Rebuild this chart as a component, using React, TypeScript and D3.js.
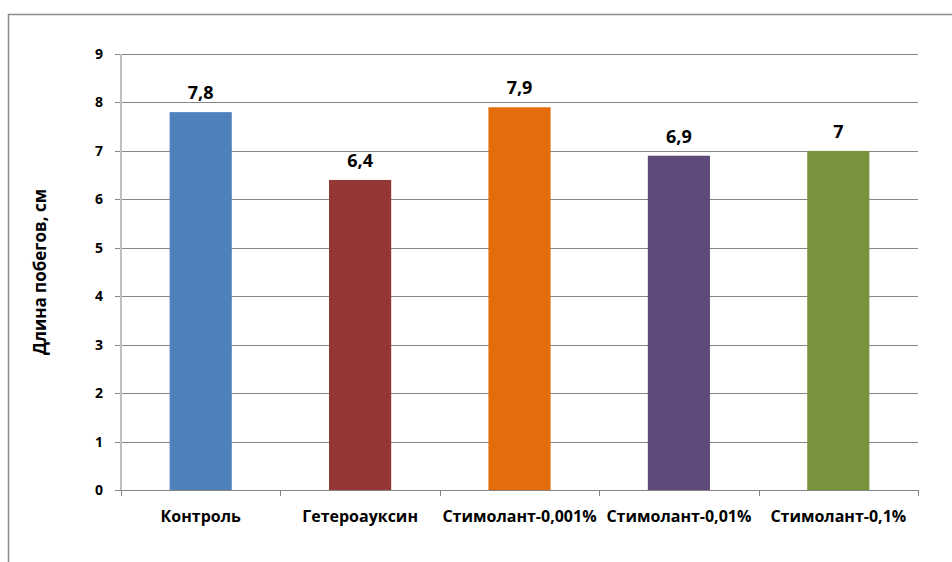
import { useEffect, useRef } from 'react';
import * as d3 from 'd3';

const categories = ['Контроль', 'Гетероауксин', 'Стимолант-0,001%', 'Стимолант-0,01%', 'Стимолант-0,1%'];
const values = [7.8, 6.4, 7.9, 6.9, 7];
const valueLabels = ['7,8', '6,4', '7,9', '6,9', '7'];
const colors = ['#4F81BD', '#953735', '#E46C0A', '#604A7B', '#77933C'];
const yTicks = [0, 1, 2, 3, 4, 5, 6, 7, 8, 9];
const yTitle = 'Длина побегов, см';

const W = 952;
const H = 562;
const FONT = '"Open Sans", "Noto Sans", sans-serif';

export default function App() {
  const svgRef = useRef<SVGSVGElement>(null);

  useEffect(() => {
    if (!svgRef.current) return;
    const svg = d3.select(svgRef.current);
    svg.selectAll('*').remove();

    const left = 121;
    const right = 918;
    const top = 54;
    const bottom = 490;

    // outer chart frame (cut off on right and bottom)
    svg
      .append('path')
      .attr('d', `M8.5,${H + 2} V14.5 H${W + 2}`)
      .attr('fill', 'none')
      .attr('stroke', '#8c8c8c')
      .attr('stroke-width', 1.5);

    const x = d3.scaleBand<string>().domain(categories).range([left, right]).paddingInner(0.61).paddingOuter(0.305);
    const xTickScale = d3.scaleBand<string>().domain(categories).range([left, right]);
    const y = d3.scaleLinear().domain([0, 9]).range([bottom, top]);

    // gridlines
    svg
      .selectAll('line.grid')
      .data(yTicks.slice(1))
      .join('line')
      .attr('class', 'grid')
      .attr('x1', left)
      .attr('x2', right)
      .attr('y1', (d) => Math.round(y(d)) + 0.5)
      .attr('y2', (d) => Math.round(y(d)) + 0.5)
      .attr('stroke', '#868686')
      .attr('stroke-width', 1);

    // y ticks
    svg
      .selectAll('line.ytick')
      .data(yTicks)
      .join('line')
      .attr('class', 'ytick')
      .attr('x1', left - 6)
      .attr('x2', left)
      .attr('y1', (d) => Math.round(y(d)) + 0.5)
      .attr('y2', (d) => Math.round(y(d)) + 0.5)
      .attr('stroke', '#868686');

    svg
      .selectAll('text.ylab')
      .data(yTicks)
      .join('text')
      .attr('class', 'ylab')
      .attr('x', left - 18)
      .attr('y', (d) => y(d) + 5)
      .attr('text-anchor', 'end')
      .attr('font-family', FONT)
      .attr('font-weight', 'bold')
      .attr('font-size', 14)
      .attr('fill', '#000')
      .text((d) => d);

    // bars
    svg
      .selectAll('rect.bar')
      .data(values)
      .join('rect')
      .attr('class', 'bar')
      .attr('x', (_, i) => x(categories[i])!)
      .attr('width', x.bandwidth())
      .attr('y', (d) => y(d))
      .attr('height', (d) => bottom - y(d))
      .attr('fill', (_, i) => colors[i]);

    // y axis line
    svg
      .append('line')
      .attr('x1', left)
      .attr('x2', left)
      .attr('y1', top)
      .attr('y2', bottom)
      .attr('stroke', '#bfbfbf')
      .attr('stroke-width', 2);

    // x axis line
    svg
      .append('line')
      .attr('x1', left)
      .attr('x2', right)
      .attr('y1', bottom + 0.5)
      .attr('y2', bottom + 0.5)
      .attr('stroke', '#868686');

    const xTickPos = [...categories.map((c) => xTickScale(c)!), right];
    svg
      .selectAll('line.xtick')
      .data(xTickPos)
      .join('line')
      .attr('class', 'xtick')
      .attr('x1', (d) => Math.round(d) + 0.5)
      .attr('x2', (d) => Math.round(d) + 0.5)
      .attr('y1', bottom)
      .attr('y2', bottom + 6)
      .attr('stroke', '#868686');

    // category labels
    svg
      .selectAll('text.xlab')
      .data(categories)
      .join('text')
      .attr('class', 'xlab')
      .attr('x', (d) => xTickScale(d)! + xTickScale.bandwidth() / 2)
      .attr('y', 522)
      .attr('text-anchor', 'middle')
      .attr('font-family', FONT)
      .attr('font-weight', 'bold')
      .attr('font-size', 16)
      .attr('fill', '#000')
      .text((d) => d);

    // value labels
    svg
      .selectAll('text.val')
      .data(values)
      .join('text')
      .attr('class', 'val')
      .attr('x', (_, i) => x(categories[i])! + x.bandwidth() / 2)
      .attr('y', (d) => y(d) - 13)
      .attr('text-anchor', 'middle')
      .attr('font-family', FONT)
      .attr('font-weight', 'bold')
      .attr('font-size', 18)
      .attr('fill', '#000')
      .text((_, i) => valueLabels[i]);

    // y title
    svg
      .append('text')
      .attr('transform', `translate(46, ${(top + bottom) / 2}) rotate(-90)`)
      .attr('text-anchor', 'middle')
      .attr('font-family', FONT)
      .attr('font-weight', 'bold')
      .attr('font-size', 17)
      .attr('fill', '#000')
      .text(yTitle);
  }, []);

  return (
    <svg
      ref={svgRef}
      width={W}
      height={H}
      style={{ position: 'absolute', left: 0, top: 0, background: '#fff' }}
    />
  );
}
